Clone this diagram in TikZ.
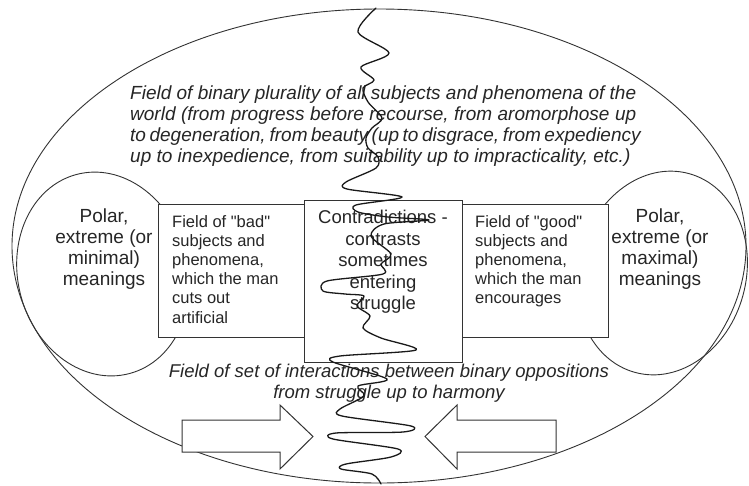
\documentclass[tikz,border=0pt]{standalone}
\usepackage{fontspec}
\setmainfont{Liberation Sans}
\begin{document}
\begin{tikzpicture}[x=1pt,y=-1pt,
  outline/.style={draw=black!80, line width=0.9pt},
  boxst/.style={draw=black!80, line width=1.1pt, fill=white, rectangle, inner sep=0pt, anchor=north west},
  arrowst/.style={draw=black!80, line width=1pt, fill=white, line join=miter},
  wavest/.style={draw=black!90, line width=1.3pt, line cap=round, line join=round},
  toptxt/.style={font=\fontsize{19}{21}\selectfont\itshape, text=black!85, inner sep=0pt, align=left, anchor=north west},
  bottxt/.style={font=\fontsize{18.5}{21}\selectfont\itshape, text=black!85, inner sep=0pt, align=center, anchor=north},
  polartxt/.style={font=\fontsize{19}{21}\selectfont, text=black!85, inner sep=0pt, align=center, anchor=north},
  centtxt/.style={font=\fontsize{18.5}{21.5}\selectfont, text=black!85, inner sep=0pt, align=center, anchor=north},
  boxtxt/.style={font=\fontsize{16.5}{19.2}\selectfont, text=black!85, inner sep=0pt, align=left, anchor=north west}
]
\useasboundingbox (0,0) rectangle (749,485);
\fill[white] (0,0) rectangle (749,485);
% outer field
\draw[outline] (379,246) ellipse [x radius=367, y radius=237];
% polar ellipses
\draw[outline, rotate around={15:(103,274)}] (103,274) ellipse [x radius=85, y radius=103];
\draw[outline, rotate around={-15:(662,273)}] (662,273) ellipse [x radius=84, y radius=103];
% boxes
\node[boxst, minimum width=146pt, minimum height=133pt] (badbox) at (158,204) {};
\node[boxst, minimum width=146pt, minimum height=133pt] (goodbox) at (462,204) {};
\node[boxst, minimum width=158pt, minimum height=162pt] (contrbox) at (304,200) {};
% arrows
\draw[arrowst] (182,420) -- (280,420) -- (280,405) -- (313,436.5) -- (280,469) -- (280,452) -- (182,452) -- cycle;
\draw[arrowst] (556,420) -- (457,420) -- (457,405) -- (425,436.5) -- (457,469) -- (457,452) -- (556,452) -- cycle;
% texts
\node[toptxt] (toptext) at (130,86) {%
\makebox[506pt][s]{Field of binary plurality of all subjects and phenomena of the}\\
\makebox[506pt][s]{world (from progress before recourse, from aromorphose up}\\
\makebox[506pt][s]{to degeneration, from beauty (up to disgrace, from expediency}\\
up to inexpedience, from suitability up to impracticality, etc.)};
\node[polartxt] (polarmin) at (104,209) {Polar,\\extreme (or\\minimal)\\meanings};
\node[polartxt] (polarmax) at (660,209) {Polar,\\extreme (or\\maximal)\\meanings};
\node[boxtxt] (badtext) at (172,215) {Field of \textquotedbl bad\textquotedbl\\subjects and\\phenomena,\\which the man\\cuts out\\artificial};
\node[boxtxt] (goodtext) at (475,215) {Field of \textquotedbl good\textquotedbl\\subjects and\\phenomena,\\which the man\\encourages};
\node[centtxt] (contrtext) at (383,210) {Contradictions -\\contrasts\\sometimes\\entering\\struggle};
\node[bottxt] (bottext) at (389,364) {Field of set of interactions between binary oppositions\\from struggle up to harmony};
% wavy border line
\draw[wavest] plot[smooth, tension=0.5] coordinates {
(376,8) (358,32) (389,53) (361,67) (374,80) (363,88) (368,102) (382,118)
(372,128) (366,138) (368,148) (378,157) (376,168) (346,182) (347,189)
(402,197) (356,205) (358,212) (388,217) (429,220) (384,224) (371,236)
(391,254) (381,264) (383,274) (327,281) (323,291) (345,294) (364,296)
(357,306) (370,316) (363,328) (381,338) (416,350) (340,356) (333,362)
(387,379) (358,386) (364,396) (340,409) (342,416) (411,426) (403,432)
(336,433) (333,439) (398,449) (391,457) (346,464) (341,469) (372,474) (381,484)};
\end{tikzpicture}
\end{document}
